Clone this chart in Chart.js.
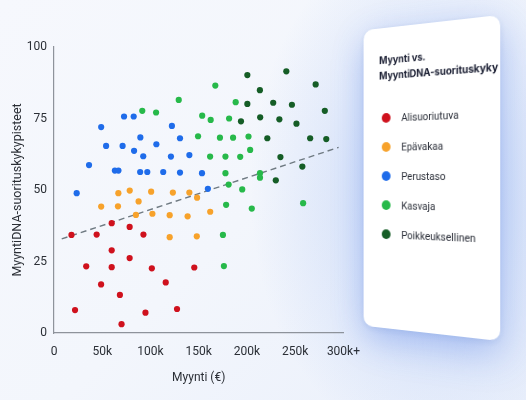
<!DOCTYPE html>
<html lang="fi">
<head>
<meta charset="utf-8">
<title>Myynti vs. MyyntiDNA-suorituskyky</title>
<script src="https://cdn.jsdelivr.net/npm/chart.js@4.4.1/dist/chart.umd.min.js"></script>
<style>
    html, body {
        margin: 0;
        padding: 0;
        width: 526px;
        height: 400px;
        overflow: hidden;
        font-family: Roboto, "Noto Sans", sans-serif;
    }
    body {
        position: relative;
        background:
            radial-gradient(ellipse 180px 260px at 430px 190px, rgba(120, 160, 240, 0.35), rgba(120, 160, 240, 0) 100%),
            linear-gradient(135deg, #f6f8fd 0%, #f3f6fc 50%, #e9effb 100%);
    }
    #chartBox {
        position: absolute;
        left: 0;
        top: 0;
        width: 372px;
        height: 400px;
    }
    #legendCard {
        position: absolute;
        left: 356px;
        top: 23px;
        width: 145px;
        height: 310px;
        box-sizing: border-box;
        padding: 25px 6px 0 18px;
        background: #ffffff;
        border-radius: 10px;
        box-shadow: 0 12px 36px rgba(60, 110, 225, 0.35), 0 2px 6px rgba(60, 90, 160, 0.12);
        transform: perspective(500px) rotateY(-20deg);
    }
    #legendCard h3 {
        margin: 0 0 21px 0;
        font-family: Inter, Roboto, sans-serif;
        font-size: 10.2px;
        font-weight: 700;
        letter-spacing: -0.1px;
        line-height: 16px;
        white-space: nowrap;
        color: #1b1f33;
    }
    .legend-item {
        display: flex;
        align-items: center;
        height: 30px;
        padding-left: 3px;
        font-size: 10.5px;
        color: #2a2e38;
    }
    .legend-dot {
        width: 10px;
        height: 10px;
        border-radius: 50%;
        margin-right: 12px;
    }
</style>
</head>
<body>
<div id="chartBox"><canvas id="scatterChart"></canvas></div>
<div id="legendCard">
    <h3>Myynti vs.<br>MyyntiDNA-suorituskyky</h3>
    <div id="legendItems"></div>
</div>

<script>
// Myynti (k€) ja MyyntiDNA-pisteet, luettu kuvasta
const seriesNames = ['Alisuoriutuva', 'Epävakaa', 'Perustaso', 'Kasvaja', 'Poikkeuksellinen'];
const seriesColors = ['#cf111d', '#f7a22b', '#1f6cea', '#27b94a', '#155d26'];

const alisuoriutuvaX = [59.8, 78.4, 18.1, 44.2, 92.7, 59.8, 78.4, 33.4, 59.8, 101.4, 145.4, 48.8, 115.8, 68.3, 21.8, 94.8, 127.5, 70.0];
const alisuoriutuvaY = [38.4, 37.1, 34.3, 34.4, 34.4, 28.9, 26.2, 23.3, 23.0, 22.6, 22.9, 17.0, 17.7, 13.3, 8.0, 7.1, 8.4, 3.1];

const epavakaaX = [48.9, 66.3, 66.7, 78.5, 87.7, 84.9, 100.7, 102.0, 123.2, 119.9, 140.3, 148.3, 138.5, 161.9, 119.9, 148.0];
const epavakaaY = [44.2, 44.3, 48.9, 49.8, 46.0, 41.3, 49.4, 41.7, 49.1, 41.2, 49.1, 47.3, 40.8, 42.4, 33.5, 33.8];

const perustasoX = [72.6, 82.6, 48.9, 122.2, 89.5, 130.6, 54.0, 71.1, 106.1, 83.0, 92.5, 121.2, 140.3, 36.3, 63.1, 66.8, 89.3, 96.7, 113.2, 130.6, 153.4, 23.5, 159.5];
const perustasoY = [75.7, 75.7, 72.0, 72.4, 68.4, 68.1, 65.4, 65.4, 66.0, 63.7, 61.8, 61.7, 62.2, 58.7, 56.8, 56.8, 56.3, 56.3, 56.3, 56.1, 55.9, 48.9, 50.4];

const kasvajaX = [91.5, 105.8, 129.3, 153.6, 149.3, 167.2, 188.3, 162.4, 181.5, 172.0, 185.6, 201.6, 203.3, 161.8, 177.7, 193.0, 177.7, 213.5, 213.5, 181.0, 195.1, 178.4, 205.0, 258.2, 175.1, 176.1];
const kasvajaY = [77.7, 77.1, 81.5, 76.0, 68.8, 86.5, 80.7, 74.5, 75.0, 68.3, 68.3, 68.7, 64.0, 61.7, 61.7, 61.6, 55.9, 55.9, 54.3, 51.9, 50.2, 44.8, 43.5, 45.4, 34.3, 23.4];

const poikkeuksellinenX = [200.4, 240.8, 271.2, 213.4, 200.4, 227.2, 246.6, 280.7, 193.8, 213.7, 233.6, 251.3, 221.1, 265.5, 282.2, 234.7, 257.4, 229.9];
const poikkeuksellinenY = [90.2, 91.5, 86.9, 84.9, 80.1, 80.5, 79.8, 77.7, 74.0, 75.4, 74.7, 73.2, 68.1, 68.1, 67.8, 61.5, 58.2, 53.4];

const trendX = [8, 295];
const trendY = [32.9, 64.9];

const xTickLabels = ['0', '50k', '100k', '150k', '200k', '250k', '300k+'];
const yTickValues = [0, 25, 50, 75, 100];

function toPoints(xs, ys) {
    return xs.map((x, i) => ({ x: x, y: ys[i] }));
}

document.addEventListener("DOMContentLoaded", function () {
    let ctx = document.getElementById('scatterChart').getContext('2d');

    let seriesX = [alisuoriutuvaX, epavakaaX, perustasoX, kasvajaX, poikkeuksellinenX];
    let seriesY = [alisuoriutuvaY, epavakaaY, perustasoY, kasvajaY, poikkeuksellinenY];

    let datasets = seriesNames.map((name, i) => ({
        type: 'scatter',
        label: name,
        data: toPoints(seriesX[i], seriesY[i]),
        backgroundColor: seriesColors[i],
        borderColor: seriesColors[i],
        borderWidth: 0,
        pointRadius: 3.1,
        order: 1
    }));

    datasets.push({
        type: 'line',
        label: 'Trendi',
        data: toPoints(trendX, trendY),
        borderColor: '#6f7a82',
        borderWidth: 1.4,
        borderDash: [6, 4],
        pointRadius: 0,
        fill: false,
        order: 2
    });

    Chart.defaults.font.family = 'Roboto, "Noto Sans", sans-serif';
    Chart.defaults.color = '#2b2f36';

    new Chart(ctx, {
        type: 'scatter',
        data: { datasets: datasets },
        options: {
            responsive: true,
            maintainAspectRatio: false,
            animation: false,
            layout: { padding: { top: 47, right: 25, bottom: 0, left: 0 } },
            plugins: {
                legend: { display: false },
                tooltip: { enabled: false }
            },
            scales: {
                x: {
                    type: 'linear',
                    min: 0,
                    max: 300,
                    grid: { display: false, drawTicks: false },
                    border: { display: true, color: '#8e939b', width: 1.2 },
                    ticks: {
                        stepSize: 50,
                        padding: 12,
                        font: { size: 12 },
                        color: '#2b2f36',
                        callback: function (value) {
                            return xTickLabels[Math.round(value / 50)];
                        }
                    },
                    title: {
                        display: true,
                        text: 'Myynti (€)',
                        font: { size: 12 },
                        color: '#2b2f36',
                        padding: { top: 0, bottom: 15 }
                    },
                    afterFit: function (scale) { scale.height = 67; }
                },
                y: {
                    type: 'linear',
                    min: 0,
                    max: 100,
                    grid: { display: false, drawTicks: false },
                    border: { display: true, color: '#8e939b', width: 1.2 },
                    afterBuildTicks: function (scale) {
                        scale.ticks = yTickValues.map(v => ({ value: v }));
                    },
                    ticks: {
                        padding: 7,
                        font: { size: 12 },
                        color: '#2b2f36'
                    },
                    title: {
                        display: true,
                        text: 'MyyntiDNA-suorituskykypisteet',
                        font: { size: 12.5 },
                        color: '#2b2f36',
                        padding: { top: 10, bottom: 0 }
                    },
                    afterFit: function (scale) { scale.width = 54; }
                }
            }
        }
    });

    // selite kortille
    let legendItems = document.getElementById('legendItems');
    seriesNames.forEach((name, i) => {
        let item = document.createElement('div');
        item.className = 'legend-item';
        let dot = document.createElement('span');
        dot.className = 'legend-dot';
        dot.style.backgroundColor = seriesColors[i];
        let label = document.createElement('span');
        label.textContent = name;
        item.appendChild(dot);
        item.appendChild(label);
        legendItems.appendChild(item);
    });
});
</script>
</body>
</html>
